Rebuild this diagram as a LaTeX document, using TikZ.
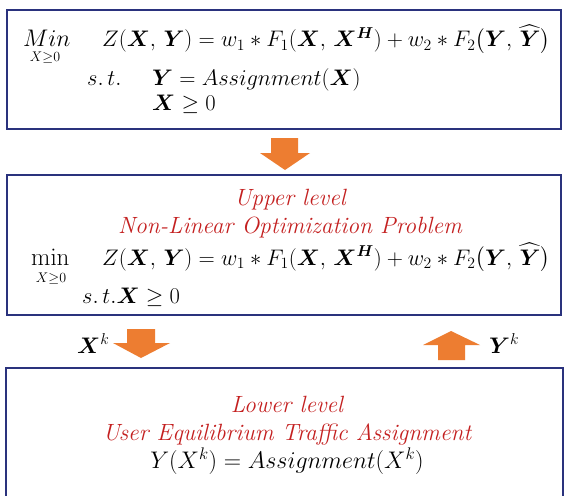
\RequirePackage{fix-cm}
\documentclass[tikz,border=0pt]{standalone}
\usepackage{amsmath}
\usepackage{bm}
\usepackage{xcolor}
\definecolor{blnavy}{RGB}{42,50,125}
\definecolor{blorange}{RGB}{237,125,49}
\definecolor{blred}{RGB}{196,32,32}
\usetikzlibrary{positioning}

\tikzset{
  levelbox/.style={draw=blnavy, line width=2.8pt, inner sep=0pt},
  eqtext/.style={anchor=base west, inner sep=0pt, font=\fontsize{22.5}{27}\selectfont},
  bigeq/.style={anchor=base, inner sep=0pt, font=\fontsize{24}{28}\selectfont},
  subtext/.style={anchor=base, inner sep=0pt, font=\fontsize{14}{16}\selectfont},
  redtitle/.style={anchor=base, inner sep=0pt, text=blred, font=\fontsize{23.5}{28}\selectfont\itshape},
  blockarrow/.style={fill=blorange, draw=none},
}

\begin{document}
\begin{tikzpicture}[x=1pt, y=-1pt]
\clip (0,0) rectangle (564,495);
\fill[white] (0,0) rectangle (564,495);

% --- the boxes ---
\node[levelbox, minimum width=554pt, minimum height=119pt] (model) at (284,69.5) {};
\node[levelbox, minimum width=554pt, minimum height=140pt] (upper) at (284,245) {};
\node[levelbox, minimum width=557pt, minimum height=140pt] (lower) at (284.5,438) {};

% --- bilevel model ---
\node[eqtext, font=\fontsize{24}{28}\selectfont] (model-min) at (23,46) {$Min$};
\node[subtext] (model-sub) at (45,62) {$X{\geq}0$};
\node[eqtext] (model-obj) at (102,47)
  {$Z(\bm{X},\,\bm{Y}) = w_1 * F_1(\bm{X},\,\bm{X}^{\bm{H}}) + w_2 * F_2\big(\bm{Y},\,\widehat{\bm{Y}}\big)$};
\node[eqtext] (model-st) at (87,85) {$s.\,t.$};
\node[eqtext] (model-c1) at (152,85) {$\bm{Y} = Assignment(\bm{X})$};
\node[eqtext] (model-c2) at (152,110) {$\bm{X} \geq 0$};

% --- upper level ---
\node[redtitle] (upper-title) at (290,205) {Upper level};
\node[redtitle] (upper-sub) at (290,233) {Non-Linear Optimization Problem};
\node[eqtext, font=\fontsize{25}{29}\selectfont] (upper-min) at (31,265) {$\mathrm{min}$};
\node[subtext] (upper-x) at (51,282) {$X{\geq}0$};
\node[eqtext] (upper-obj) at (102,265)
  {$Z(\bm{X},\,\bm{Y}) = w_1 * F_1(\bm{X},\,\bm{X}^{\bm{H}}) + w_2 * F_2\big(\bm{Y},\,\widehat{\bm{Y}}\big)$};
\node[eqtext] (upper-st) at (82,303) {$s.\,t.\bm{X} \geq 0$};

% --- lower level ---
\node[redtitle] (lower-title) at (287,412) {Lower level};
\node[redtitle] (lower-sub) at (287,440) {User Equilibrium Traffic Assignment};
\node[bigeq] (lower-eq) at (287,468) {$Y(X^k) = Assignment(X^k)$};

% --- block arrows ---
\fill[blockarrow] (271,138) -- (298,138) -- (298,153) -- (310,153) -- (285,170)
  -- (260,153) -- (271,153) -- cycle;
\fill[blockarrow] (127,329) -- (155,329) -- (155,343) -- (170,343) -- (141,358)
  -- (113,343) -- (127,343) -- cycle;
\fill[blockarrow] (438,360) -- (465,360) -- (465,345) -- (480,345) -- (451,331)
  -- (423,345) -- (438,345) -- cycle;
\node[eqtext] (xk) at (77,353) {$\bm{X}^k$};
\node[eqtext] (yk) at (489,353) {$\bm{Y}^k$};

\end{tikzpicture}
\end{document}
